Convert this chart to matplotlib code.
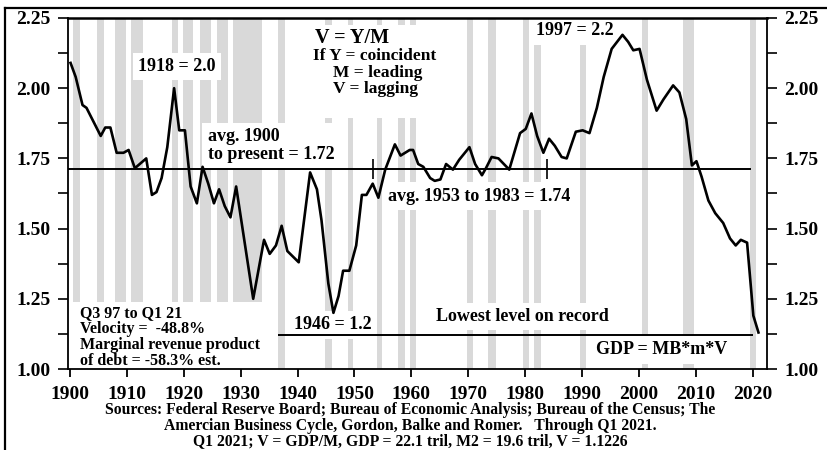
import matplotlib.pyplot as plt
from matplotlib.lines import Line2D
from matplotlib.patches import Rectangle
from matplotlib.ticker import MultipleLocator

plt.rcParams['font.family'] = ['Liberation Serif', 'DejaVu Serif']
plt.rcParams['font.weight'] = 'bold'

# velocity of money (GDP / M2)
years = [1900.1, 1901.0, 1902.2, 1902.9, 1904.4, 1905.4, 1906.2, 1907.1, 1908.2, 1909.4,
         1910.3, 1911.4, 1913.4, 1914.4, 1915.2, 1916.1, 1917.1, 1918.3, 1919.2, 1920.2,
         1921.2, 1922.3, 1923.3, 1924.3, 1925.3, 1926.2, 1927.2, 1928.2, 1929.2, 1932.2,
         1934.1, 1935.1, 1936.2, 1937.2, 1938.2, 1940.2, 1942.2, 1943.4, 1944.2, 1945.4,
         1946.3, 1947.2, 1948.0, 1949.1, 1950.3, 1951.3, 1952.1, 1953.2, 1954.2, 1955.4,
         1957.1, 1958.1, 1959.7, 1960.3, 1961.2, 1962.1, 1963.3, 1964.1, 1965.1, 1966.1,
         1967.3, 1968.4, 1970.2, 1971.2, 1972.4, 1973.1, 1974.1, 1975.3, 1977.2, 1979.1,
         1980.1, 1981.1, 1982.1, 1983.2, 1984.2, 1985.2, 1986.4, 1987.3, 1988.9, 1990.1,
         1991.3, 1992.6, 1993.8, 1995.2, 1997.1, 1998.1, 1999.0, 2000.1, 2001.4, 2003.1,
         2004.3, 2006.0, 2007.1, 2008.3, 2009.3, 2010.1, 2011.0, 2012.2, 2013.4, 2014.8,
         2016.0, 2017.0, 2017.9, 2019.0, 2020.1, 2021.0]
velocity = [2.09, 2.04, 1.94, 1.93, 1.87, 1.83, 1.86, 1.86, 1.77, 1.77,
            1.78, 1.715, 1.75, 1.62, 1.63, 1.68, 1.79, 2.00, 1.85, 1.85,
            1.65, 1.59, 1.72, 1.66, 1.59, 1.64, 1.58, 1.54, 1.65, 1.25,
            1.46, 1.41, 1.44, 1.51, 1.42, 1.38, 1.70, 1.64, 1.53, 1.305,
            1.20, 1.26, 1.35, 1.35, 1.44, 1.62, 1.62, 1.66, 1.61, 1.71,
            1.80, 1.76, 1.78, 1.78, 1.73, 1.72, 1.68, 1.67, 1.675, 1.73,
            1.71, 1.745, 1.79, 1.73, 1.69, 1.715, 1.755, 1.75, 1.71, 1.84,
            1.855, 1.91, 1.83, 1.77, 1.82, 1.795, 1.755, 1.75, 1.845, 1.85,
            1.84, 1.93, 2.04, 2.14, 2.19, 2.165, 2.135, 2.14, 2.03, 1.92,
            1.96, 2.01, 1.985, 1.89, 1.725, 1.74, 1.685, 1.60, 1.555, 1.52,
            1.465, 1.44, 1.46, 1.45, 1.19, 1.13]

# shaded recession periods
rec_start = [1900.5, 1904.7, 1907.9, 1910.8, 1917.9, 1919.8, 1922.8, 1925.8, 1928.7, 1936.6,
             1944.8, 1948.9, 1953.9, 1957.7, 1959.8, 1969.7, 1973.5, 1979.7, 1981.5, 1989.6,
             2000.6, 2007.7, 2019.5]
rec_end = [1901.8, 1905.9, 1909.8, 1912.9, 1918.9, 1921.7, 1924.7, 1927.8, 1933.8, 1937.8,
           1946.0, 1949.8, 1954.8, 1958.9, 1960.8, 1970.8, 1974.8, 1980.7, 1982.7, 1990.7,
           2001.6, 2009.7, 2020.6]

avg_all = 1.713
avg_range = [1953.3, 1983.8]
lowest = 1.1226
lowest_range = [1936.6, 2020.0]

x_ticks = list(range(1900, 2021, 10))
y_ticks = [1.00, 1.25, 1.50, 1.75, 2.00, 2.25]

fig = plt.figure(figsize=(8.28, 4.5), dpi=100)
ax = fig.add_axes([68 / 828, 81 / 450, 699 / 828, 351 / 450])

for s, e in zip(rec_start, rec_end):
    ax.axvspan(s, e, color='#d9d9d9', lw=0, zorder=0.5)

ax.plot(years, velocity, color='black', lw=1.9, zorder=4)
ax.hlines(avg_all, 1899.7, 2019.7, color='black', lw=1.4, zorder=3)
ax.vlines(avg_range, avg_all - 0.035, avg_all + 0.035, color='black', lw=1.2, zorder=3)
ax.hlines(lowest, lowest_range[0], lowest_range[1], color='black', lw=1.4, zorder=3)

# white areas behind the text blocks
ax.add_patch(Rectangle((1941.3, 1.894), 26.3, 0.331, color='white', lw=0, zorder=1))
ax.add_patch(Rectangle((1899.65, 1.0), 34.7, 0.239, color='white', lw=0, zorder=1))

box = dict(facecolor='white', edgecolor='none', boxstyle='square,pad=0.3')
ax.text(1918.8, 2.077, '1918 = 2.0', fontsize=13, ha='center', va='center', bbox=box, zorder=2)
ax.text(1988.7, 2.204, '1997 = 2.2', fontsize=13, ha='center', va='center', bbox=box, zorder=2)
ax.text(1924.2, 1.796, 'avg. 1900\nto present = 1.72', fontsize=13, ha='left', va='center',
        linespacing=1.05, bbox=box, zorder=2)
ax.text(1955.9, 1.616, 'avg. 1953 to 1983 = 1.74', fontsize=13, ha='left', va='center',
        bbox=box, zorder=2)
ax.text(1979.5, 1.187, 'Lowest level on record', fontsize=13, ha='center', va='center',
        bbox=box, zorder=2)
ax.text(2003.9, 1.068, 'GDP = MB*m*V', fontsize=13, ha='center', va='center', bbox=box, zorder=2)
ax.text(1946.2, 1.157, '1946 = 1.2', fontsize=13, ha='center', va='center', bbox=box, zorder=2)

ax.text(1943.0, 2.179, 'V = Y/M', fontsize=14.5, ha='left', va='center', zorder=2)
ax.text(1942.7, 2.115, 'If Y = coincident', fontsize=12.5, ha='left', va='center', zorder=2)
ax.text(1946.2, 2.054, 'M = leading', fontsize=12.5, ha='left', va='center', zorder=2)
ax.text(1946.2, 1.997, 'V = lagging', fontsize=12.5, ha='left', va='center', zorder=2)

ax.text(1901.75, 1.228, 'Q3 97 to Q1 21\nVelocity =  -48.8%\nMarginal revenue product\nof debt = -58.3% est.',
        fontsize=11.5, ha='left', va='top', linespacing=1.0, zorder=2)

ax.set_xlim(1899.65, 2022.5)
ax.set_ylim(1.0, 2.25)
ax.set_xticks(x_ticks)
ax.set_yticks(y_ticks)
ax.set_yticklabels(['%.2f' % v for v in y_ticks])
ax.yaxis.set_minor_locator(MultipleLocator(0.125))
ax.tick_params(axis='x', direction='out', length=6, width=1.3, labelsize=14, pad=6)
ax.tick_params(axis='y', which='both', direction='out', length=7.5, width=1.2, labelsize=14,
               left=True, right=True, labelleft=True, labelright=True, pad=5)
for side in ['left', 'right', 'bottom']:
    ax.spines[side].set_linewidth(1.3)
ax.spines['top'].set_linewidth(1.8)

fig.add_artist(Line2D([5 / 828, 5 / 828], [0, 442 / 450], transform=fig.transFigure,
                      color='black', lw=1.6))
fig.add_artist(Line2D([5 / 828, 1], [442 / 450, 442 / 450], transform=fig.transFigure,
                      color='black', lw=1.6))

fig.text(0.495, 40 / 450, 'Sources: Federal Reserve Board; Bureau of Economic Analysis; '
         'Bureau of the Census; The', fontsize=11.3, ha='center', va='center')
fig.text(0.495, 24.5 / 450, 'Amercian Business Cycle, Gordon, Balke and Romer.   Through Q1 2021.',
         fontsize=11.3, ha='center', va='center')
fig.text(0.495, 9 / 450, 'Q1 2021; V = GDP/M, GDP = 22.1 tril, M2 = 19.6 tril, V = 1.1226',
         fontsize=11.3, ha='center', va='center')

fig.savefig('out.png', dpi=100)
